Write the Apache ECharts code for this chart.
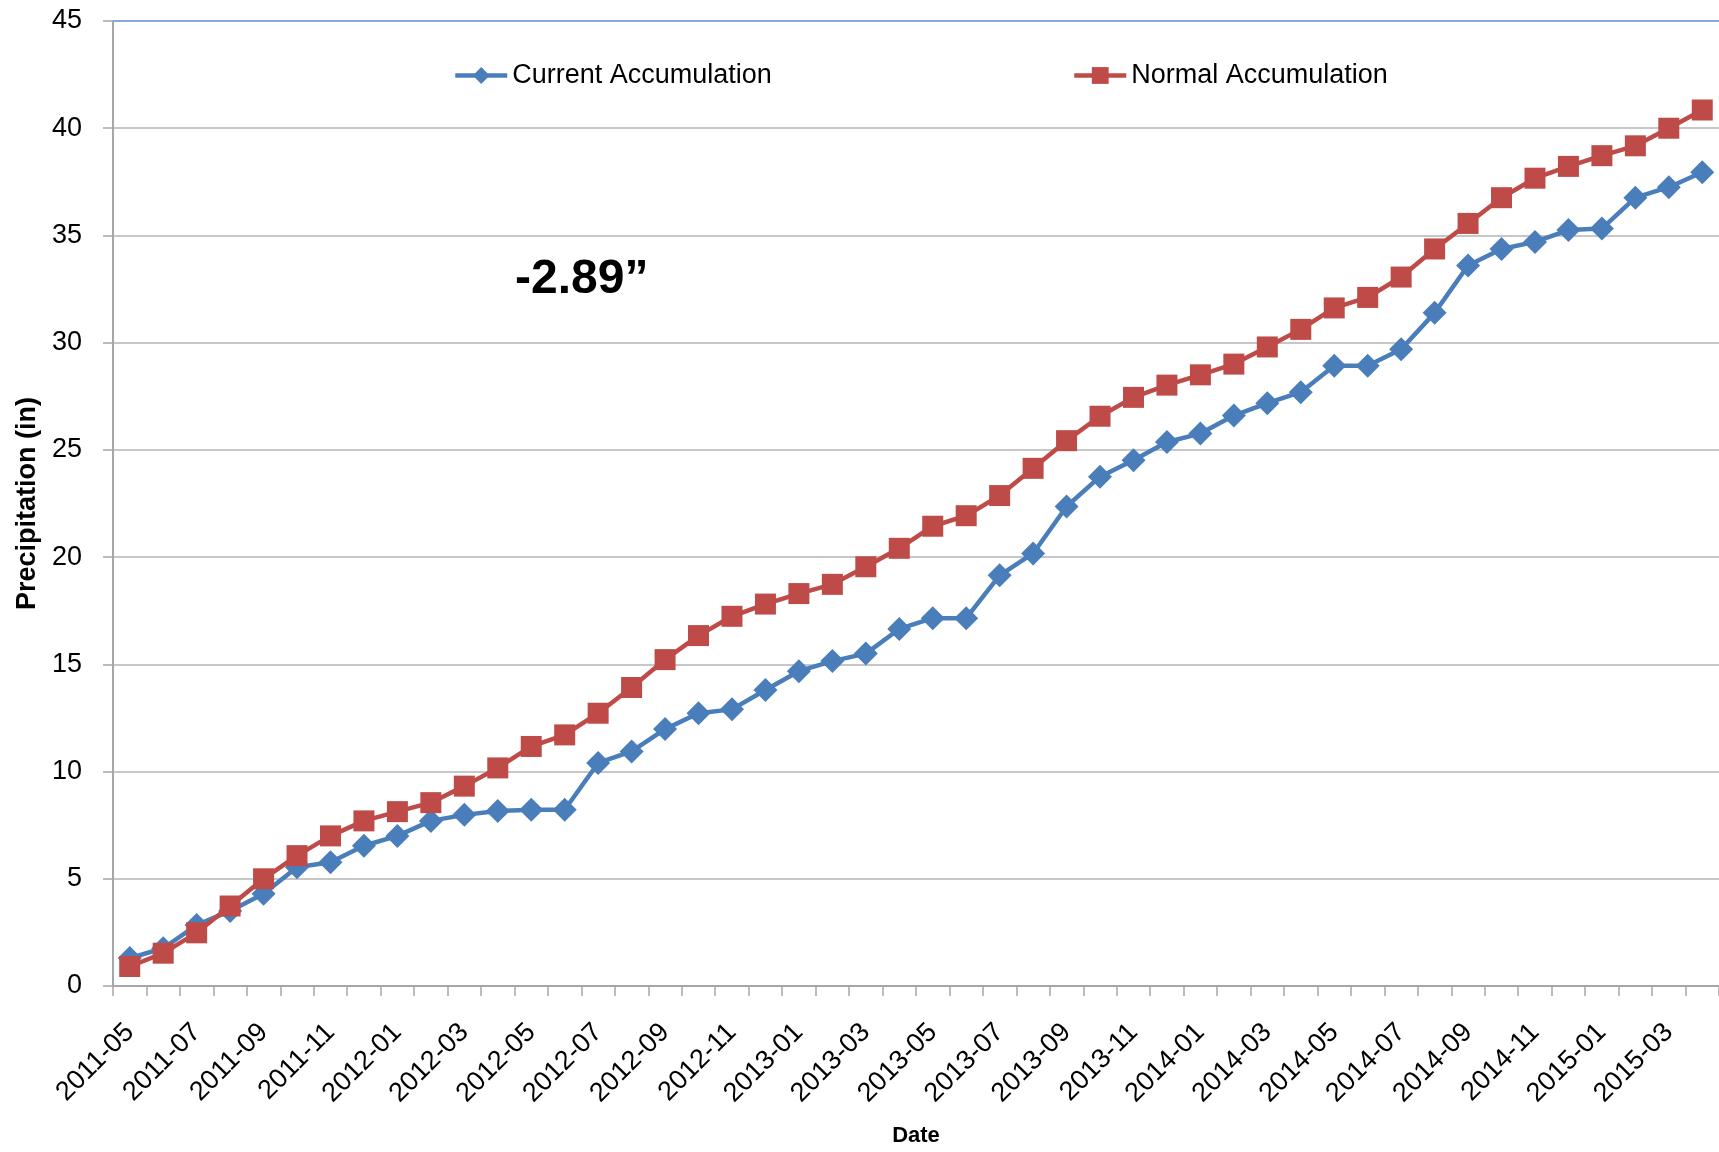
<!DOCTYPE html>
<html>
<head>
<meta charset="utf-8">
<script src="https://cdn.jsdelivr.net/npm/echarts@6/dist/echarts.min.js"></script>
<style>
html,body{margin:0;padding:0;background:#fff;}
#chart{width:1719px;height:1152px;}
</style>
</head>
<body>
<div id="chart"></div>
<script>
var categories = [
  "2011-05","2011-06","2011-07","2011-08","2011-09","2011-10","2011-11","2011-12",
  "2012-01","2012-02","2012-03","2012-04","2012-05","2012-06","2012-07","2012-08","2012-09","2012-10","2012-11","2012-12",
  "2013-01","2013-02","2013-03","2013-04","2013-05","2013-06","2013-07","2013-08","2013-09","2013-10","2013-11","2013-12",
  "2014-01","2014-02","2014-03","2014-04","2014-05","2014-06","2014-07","2014-08","2014-09","2014-10","2014-11","2014-12",
  "2015-01","2015-02","2015-03","2015-04"
];
var currentAccumulation = [
  1.30, 1.76, 2.84, 3.50, 4.30, 5.54, 5.77, 6.54, 7.00, 7.70,
  7.98, 8.16, 8.22, 8.22, 10.40, 10.94, 11.98, 12.72, 12.90, 13.80,
  14.68, 15.15, 15.50, 16.65, 17.15, 17.15, 19.15, 20.17, 22.36, 23.75,
  24.52, 25.37, 25.76, 26.60, 27.18, 27.69, 28.92, 28.92, 29.69, 31.39,
  33.60, 34.37, 34.70, 35.25, 35.32, 36.76, 37.25, 37.95
];
var normalAccumulation = [
  0.91, 1.53, 2.48, 3.73, 5.00, 6.08, 7.00, 7.70, 8.13, 8.55,
  9.32, 10.17, 11.17, 11.71, 12.72, 13.92, 15.22, 16.34, 17.24, 17.81,
  18.30, 18.73, 19.55, 20.41, 21.44, 21.93, 22.87, 24.14, 25.43, 26.57,
  27.45, 28.02, 28.50, 29.00, 29.80, 30.62, 31.62, 32.11, 33.06, 34.37,
  35.56, 36.76, 37.67, 38.22, 38.72, 39.18, 40.00, 40.85
];
var annotationText = "-2.89\u201d";

var FONT = "'Liberation Sans', Arial, sans-serif";
var chart = echarts.init(document.getElementById('chart'), null, {renderer: 'canvas'});
var gridColors = [];
for (var k = 0; k < 9; k++) gridColors.push('#b4b4b4');
gridColors.push('#5b8fd3');

function legendFor(name, left) {
  return {
    data: [name],
    left: left, top: 62,
    padding: 0,
    itemWidth: 52, itemHeight: 21, itemGap: 0,
    lineStyle: {width: 4.5},
    textStyle: {fontFamily: FONT, fontSize: 27, color: '#000'}
  };
}

chart.setOption({
  animation: false,
  backgroundColor: '#ffffff',
  grid: {left: 113, top: 21, right: 0, bottom: 159, containLabel: false},
  legend: [
    legendFor('Current Accumulation', 453),
    legendFor('Normal Accumulation', 1072)
  ],
  xAxis: {
    type: 'category',
    data: categories,
    boundaryGap: true,
    name: 'Date',
    nameLocation: 'middle',
    nameGap: 139,
    nameTextStyle: {fontFamily: FONT, fontSize: 22, fontWeight: 'bold', color: '#000'},
    axisLine: {lineStyle: {color: '#a6a6a6', width: 2}},
    axisTick: {show: true, interval: 0, length: 10, lineStyle: {color: '#a6a6a6', width: 1.5}},
    axisLabel: {interval: 1, rotate: 45, margin: 42, fontFamily: FONT, fontSize: 27, color: '#000'},
    splitLine: {show: false}
  },
  yAxis: {
    type: 'value',
    min: 0, max: 45, interval: 5,
    name: 'Precipitation (in)',
    nameLocation: 'middle',
    nameRotate: 90,
    nameGap: 72,
    nameTextStyle: {fontFamily: FONT, fontSize: 27, fontWeight: 'bold', color: '#000'},
    axisLine: {show: true, lineStyle: {color: '#a6a6a6', width: 2}},
    axisTick: {show: true, length: 10, lineStyle: {color: '#a6a6a6', width: 1.5}},
    axisLabel: {margin: 31, fontFamily: FONT, fontSize: 27, color: '#000'},
    splitLine: {show: true, lineStyle: {color: gridColors, width: 1.5}}
  },
  series: [
    {
      name: 'Current Accumulation',
      type: 'line',
      data: currentAccumulation,
      symbol: 'diamond',
      symbolSize: 24,
      showAllSymbol: true,
      itemStyle: {color: '#4a7ebb'},
      lineStyle: {color: '#4a7ebb', width: 4.5},
      z: 2
    },
    {
      name: 'Normal Accumulation',
      type: 'line',
      data: normalAccumulation,
      symbol: 'rect',
      symbolSize: 21,
      showAllSymbol: true,
      itemStyle: {color: '#be4b48'},
      lineStyle: {color: '#be4b48', width: 4.5},
      z: 3
    }
  ],
  graphic: [
    {
      type: 'text',
      left: 515,
      top: 256,
      style: {text: annotationText, fontFamily: FONT, fontSize: 48, fontWeight: 'bold', fill: '#000'}
    }
  ]
});
</script>
</body>
</html>
